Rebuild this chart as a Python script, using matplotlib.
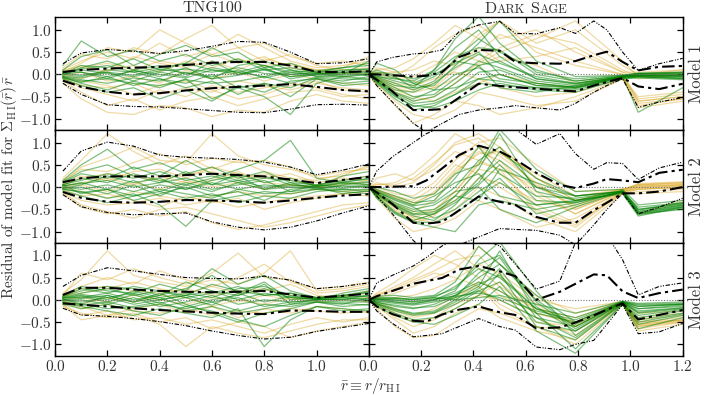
import matplotlib
matplotlib.use("Agg")
import matplotlib.pyplot as plt
from matplotlib.ticker import FuncFormatter
from matplotlib.offsetbox import TextArea, HPacker, AnchoredOffsetbox

plt.rcParams['font.family'] = 'serif'
plt.rcParams['font.serif'] = ['cmr10']
plt.rcParams['mathtext.fontset'] = 'cm'
plt.rcParams['axes.formatter.use_mathtext'] = True
plt.rcParams['axes.unicode_minus'] = True

# ---------------- data ----------------
col_titles = ["TNG100", "Dark Sage"]
row_labels = ["Model 1", "Model 2", "Model 3"]
x_ticks_left = [0.0, 0.2, 0.4, 0.6, 0.8, 1.0]
x_ticks_right = [0.0, 0.2, 0.4, 0.6, 0.8, 1.0, 1.2]
y_ticks = [-1.0, -0.5, 0.0, 0.5, 1.0]

# TNG100 radial grid
x_tng = [0.03, 0.1, 0.2, 0.3, 0.4, 0.5, 0.6, 0.7, 0.8, 0.9, 1.0, 1.1, 1.2]
# Dark Sage radial grid (individual galaxies)
x_ds = [0.0, 0.03, 0.1, 0.17, 0.25, 0.33, 0.42, 0.5, 0.64, 0.79, 0.97, 1.03, 1.2]
# Dark Sage grid for percentile curves
x_ds_pct = [0.0, 0.03, 0.09, 0.17, 0.22, 0.28, 0.345, 0.42, 0.5, 0.56, 0.64,
            0.73, 0.79, 0.86, 0.91, 0.97, 1.03, 1.11, 1.2]

# percentile curves: [outer high, inner high, inner low, outer low]
tng1_pct = [
    [0.24, 0.48, 0.56, 0.52, 0.47, 0.53, 0.63, 0.74, 0.72, 0.50, 0.24, 0.26, 0.35],
    [0.05, 0.10, 0.13, 0.15, 0.17, 0.21, 0.26, 0.28, 0.28, 0.20, 0.06, 0.05, 0.07],
    [-0.14, -0.28, -0.39, -0.45, -0.42, -0.36, -0.31, -0.28, -0.25, -0.22, -0.28, -0.35, -0.38],
    [-0.20, -0.45, -0.68, -0.72, -0.73, -0.77, -0.81, -0.85, -0.86, -0.78, -0.68, -0.67, -0.69]]
tng2_pct = [
    [0.36, 0.81, 1.01, 0.92, 0.72, 0.67, 0.65, 0.62, 0.56, 0.45, 0.28, 0.38, 0.52],
    [0.11, 0.20, 0.24, 0.24, 0.24, 0.27, 0.30, 0.27, 0.24, 0.17, 0.09, 0.16, 0.23],
    [-0.11, -0.24, -0.33, -0.35, -0.33, -0.29, -0.30, -0.32, -0.35, -0.30, -0.24, -0.19, -0.16],
    [-0.17, -0.44, -0.57, -0.62, -0.60, -0.58, -0.78, -0.90, -0.96, -0.90, -0.76, -0.58, -0.42]]
tng3_pct = [
    [0.30, 0.55, 0.72, 0.65, 0.57, 0.50, 0.48, 0.47, 0.53, 0.44, 0.25, 0.30, 0.38],
    [0.11, 0.27, 0.27, 0.23, 0.20, 0.18, 0.17, 0.18, 0.20, 0.12, 0.05, 0.09, 0.14],
    [-0.08, -0.11, -0.15, -0.19, -0.23, -0.26, -0.29, -0.31, -0.32, -0.24, -0.25, -0.27, -0.27],
    [-0.19, -0.34, -0.37, -0.42, -0.49, -0.58, -0.70, -0.80, -0.88, -0.84, -0.71, -0.62, -0.53]]

ds1_pct = [
    [0.0, 0.28, 0.38, 0.46, 0.48, 0.55, 0.96, 1.11, 1.19, 0.92, 0.91, 1.05, 0.92, 1.2, 1.0, 0.5, 0.09, 0.24, 0.36],
    [0.0, 0.0, -0.02, -0.05, -0.03, 0.05, 0.39, 0.55, 0.53, 0.28, 0.25, 0.24, 0.30, 0.43, 0.51, 0.28, 0.09, 0.17, 0.19],
    [0.0, -0.12, -0.38, -0.80, -0.80, -0.78, -0.52, -0.21, -0.26, -0.29, -0.32, -0.36, -0.38, -0.25, -0.17, -0.08, -0.27, -0.33, -0.21],
    [0.0, -0.25, -0.62, -1.1, -1.3, -1.1, -0.9, -0.80, -0.75, -0.70, -0.75, -0.80, -0.65, -0.40, -0.25, -0.10, -0.74, -0.62, -0.52]]
ds2_pct = [
    [0.0, 0.36, 0.68, 1.0, 1.2, 1.35, 1.45, 1.45, 1.4, 1.3, 0.96, 1.2, 0.75, 0.40, 0.55, 0.53, 0.17, 0.43, 0.56],
    [0.0, 0.0, 0.01, 0.02, 0.15, 0.42, 0.72, 0.93, 0.80, 0.62, 0.32, 0.05, -0.02, 0.08, 0.18, 0.15, 0.11, 0.32, 0.39],
    [0.0, -0.12, -0.38, -0.80, -0.82, -0.78, -0.52, -0.21, -0.33, -0.40, -0.67, -0.80, -0.80, -0.52, -0.35, -0.14, -0.14, -0.10, 0.0],
    [0.0, -0.2, -0.6, -1.2, -1.45, -1.45, -1.3, -1.12, -0.93, -0.95, -0.97, -1.08, -1.3, -0.85, -0.5, -0.14, -0.60, -0.45, -0.25]]
ds3_pct = [
    [0.0, 0.38, 0.55, 0.76, 0.95, 1.21, 1.4, 1.4, 1.21, 0.80, 0.24, 0.42, 1.29, 1.45, 1.45, 0.90, 0.11, 0.30, 0.38],
    [0.0, 0.08, 0.20, 0.36, 0.42, 0.49, 0.68, 0.76, 0.64, 0.53, 0.0, 0.18, 0.36, 0.57, 0.55, 0.19, 0.04, 0.15, 0.23],
    [0.0, -0.15, -0.32, -0.47, -0.49, -0.33, -0.22, -0.15, -0.28, -0.34, -0.64, -0.62, -0.51, -0.35, -0.22, -0.08, -0.44, -0.34, -0.23],
    [0.0, -0.25, -0.53, -0.83, -0.80, -0.76, -0.60, -0.42, -0.60, -0.68, -1.06, -1.12, -1.0, -0.91, -0.55, -0.11, -0.76, -0.72, -0.53]]

# individual galaxies (orange = one sample, green = the other)
tng1_orange = [
    [0.10, 0.30, 0.50, 0.35, 0.70, 0.40, 0.55, 0.90, 0.60, 0.30, 0.15, 0.20, 0.30],
    [-0.15, -0.40, -0.70, -0.55, -0.80, -0.60, -0.50, -0.70, -0.55, -0.40, -0.35, -0.50, -0.45],
    [0.05, 0.15, 0.25, 0.10, 0.30, 0.20, 0.45, 0.25, 0.40, 0.15, 0.05, 0.00, 0.10],
    [-0.08, -0.30, -0.45, -0.60, -0.35, -0.50, -0.25, -0.40, -0.30, -0.20, -0.30, -0.45, -0.55],
    [0.15, 0.45, 0.35, 0.60, 0.45, 0.80, 1.10, 0.60, 0.70, 0.40, 0.25, 0.30, 0.20],
    [-0.02, 0.05, -0.15, -0.05, -0.20, 0.10, -0.10, 0.05, -0.15, 0.00, -0.10, -0.20, -0.25],
    [0.00, -0.10, 0.10, 0.20, 0.05, 0.30, 0.15, 0.35, 0.20, 0.25, 0.10, 0.05, 0.00],
    [-0.20, -0.55, -0.85, -0.90, -0.70, -0.75, -0.95, -0.80, -0.85, -0.60, -0.45, -0.60, -0.65],
    [0.08, 0.20, 0.05, 0.40, 0.25, 0.15, 0.30, 0.10, 0.35, 0.20, 0.10, 0.15, 0.40],
    [-0.10, -0.25, -0.30, -0.20, -0.45, -0.30, -0.40, -0.15, -0.25, -0.35, -0.20, -0.30, -0.35],
    [0.05, 0.25, 0.60, 0.50, 1.00, 0.70, 0.45, 0.60, 0.30, 0.45, 0.20, 0.10, 0.15],
    [-0.05, -0.15, -0.25, -0.45, -0.25, -0.15, -0.35, -0.55, -0.45, -0.25, -0.15, -0.35, -0.40]]
tng1_green = [
    [0.05, 0.10, 0.02, -0.05, 0.08, 0.12, 0.05, 0.15, 0.02, 0.00, 0.03, -0.02, 0.05],
    [-0.05, -0.12, -0.20, -0.08, -0.15, 0.05, -0.10, -0.02, 0.10, -0.05, 0.00, 0.04, -0.03],
    [0.20, 0.75, 0.40, 0.55, 0.30, 0.45, 0.20, 0.35, 0.10, 0.15, 0.05, 0.10, 0.12],
    [-0.10, -0.25, -0.40, -0.30, -0.55, -0.35, -0.60, -0.25, -0.40, -0.15, -0.10, -0.20, -0.15],
    [0.02, 0.20, 0.15, 0.35, 0.10, 0.25, 0.60, 0.30, 0.20, 0.05, 0.08, 0.15, 0.25],
    [0.00, -0.05, 0.10, 0.05, -0.10, -0.20, 0.00, -0.30, -0.50, -0.90, -0.20, -0.05, -0.10],
    [0.08, 0.05, -0.10, 0.10, 0.20, 0.00, 0.15, 0.05, -0.05, 0.10, 0.02, -0.05, 0.02],
    [-0.02, 0.15, 0.30, 0.10, -0.05, 0.15, -0.10, 0.20, 0.30, 0.10, -0.05, 0.00, 0.30],
    [-0.08, -0.18, -0.05, -0.25, -0.10, -0.30, -0.15, -0.45, -0.20, -0.30, -0.08, -0.15, -0.05],
    [0.03, -0.02, 0.05, -0.15, 0.05, -0.05, 0.30, 0.00, 0.15, -0.10, 0.00, 0.05, 0.08],
    [0.10, 0.40, 0.55, 0.20, 0.45, 0.65, 0.40, 0.50, 0.15, 0.25, 0.05, 0.15, 0.20],
    [-0.06, -0.20, -0.35, -0.15, -0.30, -0.10, -0.55, -0.30, -0.20, -0.50, -0.10, -0.25, -0.20],
    [0.02, 0.05, -0.05, 0.08, 0.00, -0.08, 0.10, 0.00, 0.12, -0.05, 0.01, 0.03, 0.06],
    [-0.04, -0.08, 0.05, -0.02, 0.12, 0.03, -0.05, 0.10, -0.08, 0.05, -0.03, -0.06, 0.00],
    [0.06, 0.12, 0.20, 0.05, 0.15, 0.25, 0.10, 0.05, 0.20, 0.00, 0.04, 0.08, 0.12],
    [-0.07, -0.15, -0.10, -0.20, -0.25, -0.12, -0.20, -0.15, -0.05, -0.20, -0.06, -0.10, -0.12]]

tng2_orange = [
    [0.20, 0.60, 1.20, 0.80, 0.50, 0.70, 0.40, 0.60, 0.35, 0.20, 0.15, 0.30, 0.45],
    [-0.15, -0.45, -0.60, -0.50, -0.65, -0.55, -0.80, -0.95, -0.85, -0.70, -0.55, -0.40, -0.35],
    [0.05, 0.20, 0.30, 0.25, 0.15, 0.30, 0.35, 0.20, 0.30, 0.15, 0.05, 0.15, 0.25],
    [-0.10, -0.30, -0.40, -0.35, -0.25, -0.40, -0.30, -0.45, -0.35, -0.25, -0.20, -0.15, -0.20],
    [0.10, 0.45, 0.65, 0.90, 0.60, 0.55, 1.20, 0.70, 0.50, 0.40, 0.25, 0.35, 0.40],
    [0.00, 0.05, -0.10, 0.10, -0.05, 0.15, 0.00, 0.10, -0.05, 0.05, 0.00, 0.10, 0.05],
    [-0.05, -0.20, -0.15, -0.30, -0.45, -0.20, -0.35, -0.25, -0.50, -0.35, -0.25, -0.15, -0.10],
    [0.08, 0.25, 0.15, 0.35, 0.40, 0.20, 0.45, 0.30, 0.20, 0.30, 0.10, 0.20, 0.15],
    [-0.12, -0.40, -0.55, -0.70, -0.50, -0.45, -0.60, -0.75, -0.90, -0.80, -0.65, -0.50, -0.40],
    [0.03, 0.10, 0.20, 0.05, 0.25, 0.10, 0.15, 0.35, 0.10, 0.05, 0.00, 0.05, 0.15],
    [0.15, 0.40, 0.35, 0.55, 0.75, 0.50, 0.65, 0.55, 0.60, 0.45, 0.20, 0.25, 0.50],
    [-0.02, -0.10, -0.25, -0.10, -0.20, -0.30, -0.20, -0.10, -0.20, -0.15, -0.05, -0.10, -0.05]]
tng2_green = [
    [0.15, 0.50, 0.85, 0.40, 0.55, 0.30, 0.45, 0.20, 0.35, 0.10, 0.05, 0.15, 0.25],
    [-0.05, -0.10, -0.25, -0.15, -0.40, -0.88, -0.30, -0.20, -0.10, -0.15, -0.05, -0.10, -0.15],
    [0.05, 0.20, 0.10, 0.30, 0.15, 0.05, 0.20, 0.40, 0.60, 1.05, 0.20, 0.10, 0.05],
    [0.00, -0.05, 0.05, -0.10, 0.05, -0.05, 0.10, -0.05, 0.05, 0.00, -0.02, 0.03, 0.00],
    [0.10, 0.30, 0.20, 0.45, 0.25, 0.60, 0.30, 0.15, 0.25, 0.05, 0.00, 0.10, 0.20],
    [-0.08, -0.20, -0.35, -0.20, -0.10, -0.25, -0.15, -0.35, -0.20, -0.25, -0.10, -0.05, -0.10],
    [0.02, 0.10, -0.05, 0.15, -0.10, 0.10, -0.05, 0.05, 0.15, -0.10, 0.05, 0.00, 0.05],
    [-0.03, 0.05, 0.25, 0.10, 0.20, -0.05, 0.15, 0.25, -0.05, 0.10, -0.05, 0.05, 0.10],
    [0.05, -0.15, -0.05, -0.30, -0.15, 0.00, -0.20, -0.10, -0.30, -0.05, 0.00, -0.15, -0.08],
    [0.12, 0.35, 0.50, 0.25, 0.10, 0.35, 0.05, 0.30, 0.10, 0.20, 0.02, 0.25, 0.35],
    [0.03, 0.08, 0.15, 0.00, 0.10, 0.20, 0.05, 0.15, 0.00, 0.05, 0.02, 0.08, 0.12],
    [-0.04, -0.12, -0.05, -0.20, -0.05, -0.15, -0.25, -0.05, -0.15, -0.10, -0.04, -0.06, -0.05],
    [0.06, 0.15, 0.30, 0.20, 0.35, 0.15, 0.25, 0.10, 0.20, 0.15, 0.03, 0.12, 0.18],
    [-0.02, 0.00, -0.15, 0.05, -0.20, 0.05, -0.10, 0.10, -0.05, 0.00, 0.00, -0.03, 0.02]]

tng3_orange = [
    [0.15, 0.45, 1.10, 0.55, 0.40, 0.30, 0.45, 0.35, 0.60, 1.10, 0.20, 0.25, 0.35],
    [-0.15, -0.30, -0.40, -0.35, -0.55, -1.05, -0.60, -0.75, -0.85, -0.70, -0.55, -0.45, -0.45],
    [0.05, 0.25, 0.30, 0.20, 0.15, 0.25, 0.10, 0.20, 0.25, 0.10, 0.05, 0.10, 0.15],
    [-0.05, -0.20, -0.10, -0.25, -0.30, -0.20, -0.35, -0.25, -0.30, -0.20, -0.25, -0.30, -0.25],
    [0.10, 0.60, 0.45, 0.70, 0.50, 0.35, 0.60, 1.05, 0.50, 0.45, 0.15, 0.20, 0.30],
    [0.00, 0.05, -0.05, 0.10, 0.00, -0.10, 0.05, -0.05, 0.10, 0.00, 0.05, 0.10, 0.05],
    [-0.10, -0.35, -0.25, -0.45, -0.40, -0.55, -0.45, -0.60, -0.75, -0.55, -0.40, -0.50, -0.40],
    [0.08, 0.15, 0.25, 0.40, 0.25, 0.15, 0.30, 0.15, 0.20, 0.35, 0.10, 0.05, 0.20],
    [-0.05, -0.15, -0.35, -0.20, -0.10, -0.30, -0.15, -0.40, -0.20, -0.30, -0.15, -0.20, -0.30],
    [0.12, 0.30, 0.50, 0.35, 0.65, 0.45, 0.30, 0.50, 0.80, 0.40, 0.25, 0.30, 0.40],
    [-0.02, -0.10, 0.05, -0.05, 0.10, 0.05, -0.15, 0.00, -0.10, 0.05, -0.05, 0.00, -0.05],
    [-0.12, -0.45, -0.35, -0.30, -0.50, -0.40, -0.65, -0.50, -0.60, -0.85, -0.70, -0.60, -0.50]]
tng3_green = [
    [0.05, 0.15, 0.25, 0.10, 0.20, 0.05, 0.15, 0.30, 0.10, 0.15, 0.05, 0.10, 0.15],
    [-0.05, -0.10, -0.20, -0.15, -0.05, -0.25, -0.15, -0.30, -0.20, -0.10, -0.05, -0.15, -0.10],
    [0.10, 0.30, 0.20, 0.15, 0.35, 0.20, 0.70, 0.35, 0.55, 0.20, 0.05, 0.10, 0.20],
    [0.00, -0.05, 0.05, -0.10, 0.00, 0.10, -0.05, 0.05, -0.15, -0.05, 0.00, 0.05, 0.00],
    [-0.08, -0.15, -0.25, -0.35, -0.20, -0.30, -0.40, -0.20, -1.05, -0.45, -0.15, -0.25, -0.20],
    [0.03, 0.10, 0.00, 0.20, 0.05, 0.15, 0.05, 0.25, 0.30, 0.10, 0.02, 0.00, 0.10],
    [0.07, 0.20, 0.30, 0.25, 0.10, 0.40, 0.20, 0.10, 0.25, 0.05, 0.00, 0.15, 0.25],
    [-0.03, 0.00, -0.10, 0.05, -0.15, -0.05, 0.10, -0.10, 0.00, -0.05, -0.02, -0.05, -0.05],
    [0.02, -0.10, 0.10, -0.05, 0.15, -0.10, -0.30, -0.50, -0.30, -0.20, -0.05, -0.10, 0.05],
    [-0.10, -0.20, -0.10, -0.25, -0.35, -0.15, -0.25, -0.45, -0.60, -0.35, -0.15, -0.20, -0.25],
    [0.05, 0.05, 0.15, 0.00, 0.10, 0.25, 0.55, 0.15, 0.40, 0.00, 0.05, 0.05, 0.10],
    [0.00, 0.08, -0.05, 0.12, -0.08, 0.05, -0.12, 0.15, -0.05, 0.08, 0.00, 0.02, 0.03],
    [0.04, 0.12, 0.05, 0.15, 0.00, 0.10, 0.20, 0.00, 0.15, 0.05, 0.03, 0.06, 0.08],
    [-0.06, -0.12, -0.05, -0.18, -0.10, -0.20, -0.05, -0.25, -0.10, -0.15, -0.05, -0.08, -0.12],
    [0.08, 0.25, 0.15, 0.30, 0.20, 0.10, 0.35, 0.20, 0.10, 0.15, 0.02, 0.08, 0.18],
    [-0.01, 0.03, 0.10, -0.05, 0.05, -0.15, 0.00, 0.10, 0.35, -0.10, 0.01, 0.00, -0.02]]

ds1_orange = [
    [0, -0.10, -0.30, -0.40, -0.30, 0.10, 0.50, 0.90, 0.60, 0.30, 0.00, -0.60, -0.50],
    [0, 0.05, -0.05, 0.20, 0.60, 0.90, 1.10, 0.80, 1.00, 0.50, 0.05, -0.10, 0.00],
    [0, -0.20, -0.60, -0.90, -1.00, -0.80, -0.40, -0.50, -0.70, -0.60, -0.10, -0.70, -0.55],
    [0, 0.00, -0.10, -0.05, 0.20, 0.50, 0.30, 0.60, 0.90, 0.70, 0.10, -0.05, 0.05],
    [0, -0.15, -0.40, -0.60, -0.50, -0.20, 0.20, 0.40, 0.20, -0.20, -0.05, -0.65, -0.55],
    [0, 0.10, 0.15, 0.35, 0.70, 1.10, 0.80, 1.20, 0.70, 1.00, 0.20, 0.00, 0.10],
    [0, -0.05, -0.20, -0.25, -0.10, 0.05, -0.10, -0.30, -0.50, -0.40, -0.08, -0.75, -0.60],
    [0, -0.25, -0.70, -1.10, -0.90, -0.60, -0.70, -0.90, -0.75, -0.50, -0.10, -0.50, -0.40],
    [0, 0.02, 0.05, 0.10, 0.30, 0.20, 0.60, 0.30, 0.40, 0.60, 0.05, 0.05, 0.10],
    [0, -0.08, -0.25, -0.35, -0.20, 0.30, 0.90, 1.20, 0.50, 0.20, 0.00, -0.55, -0.45],
    [0, 0.15, 0.05, -0.15, -0.30, -0.10, 0.25, 0.50, 0.80, 1.20, 0.30, -0.05, 0.00],
    [0, -0.12, -0.35, -0.50, -0.60, -0.40, -0.20, 0.00, -0.20, -0.30, -0.05, -0.60, -0.50]]
ds1_green = [
    [0, -0.10, -0.30, -0.50, -0.45, -0.10, 0.30, 0.15, -0.15, -0.25, -0.05, -0.02, -0.05],
    [0, -0.15, -0.45, -0.65, -0.60, -0.35, 0.05, 0.10, -0.20, -0.30, -0.08, -0.05, -0.08],
    [0, -0.05, -0.10, -0.15, 0.10, 0.60, 1.00, 0.40, -0.10, -0.20, -0.05, 0.00, 0.02],
    [0, -0.20, -0.55, -0.80, -0.70, -0.45, -0.20, -0.25, -0.30, -0.35, -0.10, -0.05, -0.10],
    [0, 0.05, 0.00, -0.10, 0.05, 0.40, 0.60, 0.55, 0.00, -0.15, -0.03, 0.02, 0.00],
    [0, -0.12, -0.35, -0.40, -0.20, 0.15, 0.45, 0.25, -0.05, -0.20, -0.05, -0.03, -0.04],
    [0, 0.25, 0.10, -0.20, -0.35, -0.30, -0.10, 0.00, -0.25, -0.30, -0.05, -0.85, -0.30],
    [0, -0.08, -0.25, -0.30, 0.10, 0.80, 1.30, 0.70, 0.05, -0.10, -0.02, 0.02, 0.05],
    [0, -0.18, -0.50, -0.70, -0.75, -0.60, -0.35, -0.20, -0.35, -0.40, -0.10, -0.08, -0.12],
    [0, -0.03, -0.15, -0.25, -0.05, 0.30, 0.20, -0.30, -0.40, -0.25, -0.05, 0.00, -0.03],
    [0, 0.10, -0.05, -0.30, -0.25, 0.20, 0.70, 1.20, 0.30, -0.05, -0.02, 0.03, 0.05],
    [0, -0.10, -0.40, -0.55, -0.35, 0.00, 0.15, -0.10, -0.20, -0.28, -0.06, -0.04, -0.06],
    [0, -0.14, -0.42, -0.60, -0.50, -0.20, 0.20, 0.30, -0.10, -0.22, -0.05, -0.03, -0.02],
    [0, -0.06, -0.20, -0.35, -0.15, 0.35, 0.80, 0.50, 0.10, -0.15, -0.04, 0.01, 0.03],
    [0, -0.16, -0.48, -0.72, -0.65, -0.45, -0.10, -0.15, -0.30, -0.32, -0.07, -0.06, -0.09],
    [0, 0.02, -0.08, -0.20, 0.00, 0.25, 0.50, 0.00, -0.25, -0.28, -0.05, -0.02, -0.01]]

ds2_orange = [
    [0, -0.10, -0.35, -0.55, -0.30, 0.30, 0.80, 0.60, -0.20, -0.60, -0.10, 0.00, 0.05],
    [0, 0.10, 0.00, 0.10, 0.50, 1.00, 1.20, 0.90, 0.20, -0.30, -0.05, 0.05, 0.10],
    [0, -0.20, -0.55, -0.80, -0.65, -0.20, 0.40, 0.30, -0.40, -0.80, -0.15, -0.05, 0.00],
    [0, 0.00, -0.15, -0.20, 0.10, 0.60, 1.00, 1.10, 0.50, -0.10, -0.05, 0.05, 0.08],
    [0, -0.15, -0.45, -0.70, -0.80, -0.50, 0.00, -0.20, -0.70, -1.00, -0.15, -0.10, -0.05],
    [0, 0.20, 0.30, 0.15, 0.40, 0.80, 0.60, 0.40, 0.00, -0.40, -0.08, 0.08, 0.12],
    [0, -0.05, -0.25, -0.40, -0.10, 0.40, 0.90, 0.70, 0.10, -0.50, -0.10, -0.02, 0.03],
    [0, -0.25, -0.70, -1.00, -0.90, -0.70, -0.30, -0.50, -0.90, -0.70, -0.12, -0.15, -0.10],
    [0, 0.05, 0.10, 0.30, 0.70, 1.20, 0.90, 0.50, -0.10, -0.60, -0.10, 0.02, 0.05],
    [0, -0.12, -0.40, -0.60, -0.50, -0.10, 0.50, 0.90, 0.20, -0.30, -0.05, 0.00, 0.02],
    [0, -0.08, -0.20, -0.30, 0.00, 0.50, 0.30, 0.00, -0.50, -0.85, -0.10, -0.05, 0.00],
    [0, -0.18, -0.50, -0.75, -0.60, -0.30, 0.20, 0.10, -0.30, -0.50, -0.08, -0.60, -0.30],
    [0, -0.06, -0.22, -0.35, -0.15, 0.35, 0.75, 0.80, 0.05, -0.45, -0.06, 0.03, 0.06],
    [0, -0.14, -0.45, -0.68, -0.55, -0.10, 0.55, 0.40, -0.55, -0.90, -0.12, -0.04, -0.02],
    [0, 0.06, 0.05, 0.20, 0.55, 0.95, 1.10, 0.75, 0.30, -0.20, -0.05, 0.06, 0.10]]
ds2_green = [
    [0, -0.15, -0.40, -0.60, -0.55, -0.30, 0.10, 0.80, 0.20, -0.20, -0.10, -0.55, -0.40],
    [0, -0.20, -0.55, -0.75, -0.60, -0.20, 0.40, 1.20, -0.10, -0.30, -0.12, -0.60, -0.45],
    [0, -0.10, -0.30, -0.45, -0.70, -0.50, -0.10, 0.20, -0.60, -0.40, -0.08, -0.50, -0.35],
    [0, -0.05, -0.20, -0.35, -0.30, 0.20, 0.90, 0.30, -0.20, -0.25, -0.10, -0.45, -0.35],
    [0, -0.25, -0.60, -0.80, -0.90, -1.00, -0.40, -0.30, -0.50, -0.35, -0.10, -0.60, -0.50],
    [0, 0.00, -0.10, -0.25, -0.15, 0.30, 0.50, 1.30, 0.40, -0.10, -0.05, -0.40, -0.30],
    [0, -0.12, -0.35, -0.50, -0.40, -0.10, 0.00, -0.50, -0.80, -0.45, -0.10, -0.55, -0.40],
    [0, -0.18, -0.45, -0.65, -0.75, -0.40, 0.20, 0.60, 0.00, -0.30, -0.15, -0.65, -0.45],
    [0, -0.08, -0.25, -0.40, -0.20, 0.10, 0.30, -0.20, -0.40, -0.30, -0.08, -0.50, -0.38],
    [0, -0.14, -0.38, -0.55, -0.50, -0.20, -0.30, 0.40, 0.10, -0.20, -0.10, -0.58, -0.42],
    [0, -0.16, -0.42, -0.62, -0.60, -0.35, 0.05, 0.50, -0.30, -0.35, -0.11, -0.58, -0.44],
    [0, -0.10, -0.28, -0.42, -0.35, 0.00, 0.60, 0.90, 0.00, -0.20, -0.09, -0.52, -0.36],
    [0, -0.22, -0.58, -0.78, -0.80, -0.60, -0.20, 0.10, -0.40, -0.32, -0.12, -0.62, -0.48]]

ds3_orange = [
    [0, 0.10, 0.30, 0.50, 0.80, 1.10, 0.70, 0.30, -0.20, -0.40, -0.05, -0.50, -0.40],
    [0, -0.15, -0.45, -0.75, -0.60, -0.30, -0.10, -0.40, -0.70, -0.90, -0.10, -0.55, -0.45],
    [0, 0.05, 0.15, 0.30, 0.50, 0.70, 1.20, 0.80, 0.10, -0.30, -0.05, -0.40, -0.30],
    [0, -0.05, -0.20, -0.35, -0.20, 0.10, 0.30, -0.10, -0.50, -0.60, -0.08, -0.60, -0.50],
    [0, 0.15, 0.40, 0.70, 1.00, 0.80, 0.50, 0.10, -0.30, -0.50, -0.06, -0.45, -0.35],
    [0, -0.20, -0.60, -0.85, -0.80, -0.50, -0.20, -0.30, -0.60, -0.70, -0.10, -0.70, -0.55],
    [0, 0.00, 0.05, 0.10, 0.25, 0.45, 0.80, 0.60, 0.00, -0.20, -0.04, -0.30, -0.25],
    [0, -0.10, -0.30, -0.50, -0.40, -0.10, 0.10, 0.00, -0.40, -0.80, -0.08, -0.65, -0.50],
    [0, 0.08, 0.25, 0.45, 0.65, 0.90, 1.00, 0.50, -0.10, -0.60, -0.06, -0.50, -0.45],
    [0, -0.08, -0.25, -0.40, -0.30, 0.00, 0.40, 0.20, -0.20, -0.50, -0.05, -0.55, -0.45],
    [0, 0.12, 0.20, 0.40, 0.60, 0.50, 0.30, -0.20, -0.60, -1.00, -0.10, -0.60, -0.45],
    [0, -0.12, -0.40, -0.60, -0.45, -0.20, 0.10, 0.40, -0.30, -0.55, -0.07, -0.58, -0.48]]
ds3_green = [
    [0, -0.05, -0.15, -0.20, -0.10, 0.10, 0.50, 0.80, 0.00, -0.60, -0.05, -0.30, -0.20],
    [0, 0.02, -0.05, -0.10, 0.00, 0.20, 0.90, 1.30, 0.20, -0.80, -0.08, -0.40, -0.25],
    [0, -0.10, -0.25, -0.35, -0.30, -0.10, 0.20, 0.40, -0.50, -0.70, -0.06, -0.20, -0.15],
    [0, 0.05, 0.05, 0.00, 0.05, 0.30, 0.70, 0.50, -0.20, -0.40, -0.04, -0.10, -0.08],
    [0, -0.08, -0.20, -0.30, -0.25, 0.00, 0.30, 1.10, -0.30, -1.10, -0.10, -0.55, -0.35],
    [0, 0.00, 0.02, 0.00, 0.05, 0.00, 0.05, 0.10, -0.10, -0.30, -0.03, -0.08, -0.05],
    [0, -0.12, -0.30, -0.45, -0.40, -0.20, 0.10, 0.60, -0.60, -0.90, -0.08, -0.45, -0.30],
    [0, 0.08, 0.10, 0.05, 0.10, 0.40, 1.20, 0.80, 0.10, -0.50, -0.05, -0.15, -0.10],
    [0, -0.03, -0.08, -0.12, -0.05, 0.05, 0.20, 0.00, -0.40, -0.60, -0.06, -0.25, -0.18],
    [0, -0.15, -0.35, -0.50, -0.55, -0.35, -0.10, 0.30, -0.70, -1.20, -0.10, -0.65, -0.40],
    [0, 0.03, 0.00, -0.05, 0.00, 0.15, 0.40, 0.20, -0.30, -0.50, -0.05, -0.12, -0.10],
    [0, -0.06, -0.12, -0.18, -0.15, 0.05, 0.60, 0.95, -0.15, -0.70, -0.07, -0.35, -0.22],
    [0, -0.02, -0.05, -0.08, -0.02, 0.10, 0.35, 0.55, -0.20, -0.55, -0.05, -0.20, -0.12],
    [0, 0.04, 0.03, 0.02, 0.08, 0.25, 0.80, 1.00, -0.05, -0.65, -0.06, -0.28, -0.18],
    [0, -0.09, -0.22, -0.32, -0.28, -0.05, 0.25, 0.70, -0.40, -0.85, -0.09, -0.50, -0.32],
    [0, 0.01, -0.02, -0.04, 0.02, 0.08, 0.15, 0.05, -0.25, -0.45, -0.04, -0.15, -0.10]]

tng_orange = [tng1_orange, tng2_orange, tng3_orange]
tng_green = [tng1_green, tng2_green, tng3_green]
tng_pct = [tng1_pct, tng2_pct, tng3_pct]
ds_orange = [ds1_orange, ds2_orange, ds3_orange]
ds_green = [ds1_green, ds2_green, ds3_green]
ds_pct = [ds1_pct, ds2_pct, ds3_pct]

# ---------------- style ----------------
ORANGE = 'goldenrod'
GREEN = 'green'
TXT = '0.2'
inner_ls = (0, (6, 2, 1.5, 2))
outer_ls = (0, (4, 1.5, 1, 1.2, 1, 1.5))

fig, axes = plt.subplots(3, 2, figsize=(7.06, 3.95), dpi=100)
fig.subplots_adjust(left=0.078, right=0.967, top=0.956, bottom=0.100,
                    wspace=0, hspace=0)


def draw_panel(ax, xg, orange, green, xp, pct):
    for y in orange:
        ax.plot(xg, y, color=ORANGE, lw=0.9, alpha=0.4, zorder=1)
    for y in green:
        ax.plot(xg, y, color=GREEN, lw=0.9, alpha=0.5, zorder=2)
    ax.axhline(0, color='0.45', lw=0.8, ls=(0, (1, 1.5)), zorder=3)
    for k, y in enumerate(pct):
        if k in (1, 2):
            ax.plot(xp, y, color='k', lw=1.5, ls=inner_ls, zorder=4)
        else:
            ax.plot(xp, y, color='k', lw=0.8, ls=outer_ls, zorder=4)


for r in range(3):
    draw_panel(axes[r, 0], x_tng, tng_orange[r], tng_green[r], x_tng, tng_pct[r])
    draw_panel(axes[r, 1], x_ds, ds_orange[r], ds_green[r], x_ds_pct, ds_pct[r])

fmt = FuncFormatter(lambda v, p: f'${v:.1f}$')
for r in range(3):
    for c in range(2):
        ax = axes[r, c]
        ax.set_xlim(0, 1.2)
        ax.set_ylim(-1.25, 1.28)
        ax.set_xticks(x_ticks_left if c == 0 else x_ticks_right)
        ax.set_yticks(y_ticks)
        ax.tick_params(direction='in', top=True, right=True, length=4.5,
                       width=0.9, labelsize=11, pad=2.5, color='k',
                       labelcolor=TXT)
        for s in ax.spines.values():
            s.set_linewidth(1.0)
        ax.xaxis.set_major_formatter(fmt)
        ax.yaxis.set_major_formatter(fmt)
        if c == 1:
            ax.tick_params(labelleft=False)
            ax.yaxis.set_label_position('right')
            ax.set_ylabel(row_labels[r], fontsize=12, color=TXT, labelpad=4)
        if r < 2:
            ax.tick_params(labelbottom=False)

axes[0, 0].set_title(col_titles[0], fontsize=11.5, pad=4, color=TXT)

# small-caps title for Dark Sage
big, small = 11.5, 9.0
tp_b = dict(size=big, color=TXT, family='serif')
tp_s = dict(size=small, color=TXT, family='serif')
w1 = HPacker(children=[TextArea(col_titles[1][0], textprops=tp_b),
                       TextArea(col_titles[1][1:4].upper(), textprops=tp_s)],
             align='baseline', pad=0, sep=0)
w2 = HPacker(children=[TextArea(col_titles[1][5], textprops=tp_b),
                       TextArea(col_titles[1][6:].upper(), textprops=tp_s)],
             align='baseline', pad=0, sep=0)
title_box = HPacker(children=[w1, w2], align='baseline', pad=0, sep=4)
anch = AnchoredOffsetbox(loc='lower center', child=title_box, pad=0, borderpad=0,
                         frameon=False, bbox_to_anchor=(0.5, 1.015),
                         bbox_transform=axes[0, 1].transAxes)
axes[0, 1].add_artist(anch)

fig.text(0.013, 0.528,
         r'Residual of model fit for $\bar{\Sigma}_{\rm H\,I}(\bar{r})\,\bar{r}$',
         rotation=90, ha='center', va='center', fontsize=11, color=TXT)
fig.text(0.524, 0.049, r'$\bar{r} \equiv r / r_{\rm H\,I}$',
         ha='center', va='top', fontsize=11, color=TXT)

fig.savefig('out.png', dpi=100)
